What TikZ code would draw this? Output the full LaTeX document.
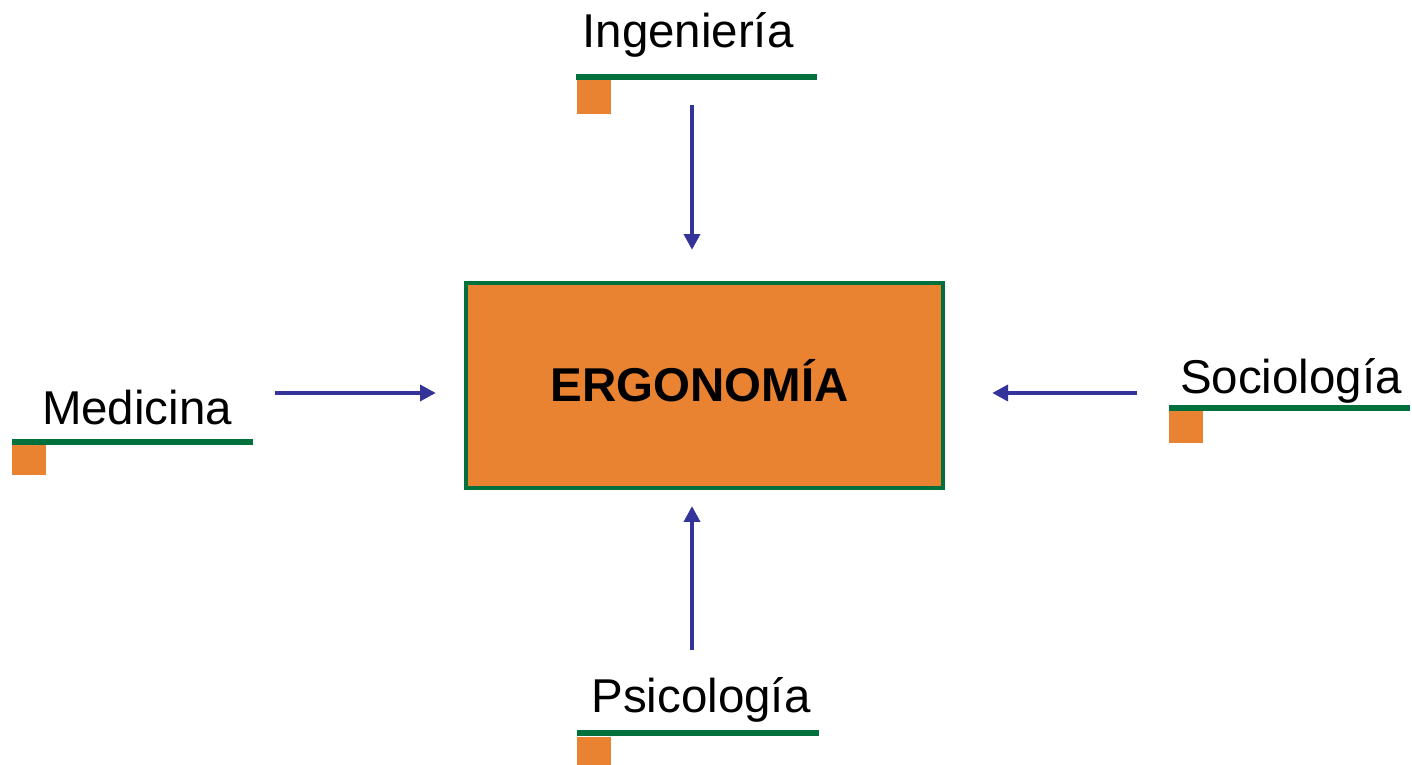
\documentclass[tikz,border=0pt]{standalone}
\usepackage{fontspec}
\setmainfont{Liberation Sans}
\usetikzlibrary{arrows.meta}
\definecolor{ergnaranja}{RGB}{233,131,49}
\definecolor{ergverde}{RGB}{0,112,60}
\definecolor{ergazul}{RGB}{51,51,153}
\tikzset{
  campo/.style={anchor=base,inner sep=0pt,font=\fontsize{13.5}{16}\selectfont},
  raya/.style={ergverde,line width=1.7pt},
  marca/.style={fill=ergnaranja},
  flecha/.style={ergazul,line width=1.1pt,-{Triangle[length=4.5pt,width=4.5pt]}}
}
\begin{document}
\begin{tikzpicture}[x=0.01cm,y=-0.01cm]
        \useasboundingbox (0,0) rectangle (1412,765);

        \node[draw=ergverde,line width=1.15pt,fill=ergnaranja,minimum width=4.77cm,minimum height=2.05cm] (ergo) at (704.5,385.5) {};
        \node[campo,font=\bfseries\fontsize{13.5}{16}\selectfont] (ergotxt) at (699.5,402) {ERGONOM\'IA};

        % Ingenieria
        \node[campo] (ing) at (688,48) {Ingenier\'ia};
        \draw[raya] (576,77) -- (817,77);
        \fill[marca] (577,80) rectangle (611,114);

        % Medicina
        \node[campo] (med) at (137,425) {Medicina};
        \draw[raya] (12,442) -- (253,442);
        \fill[marca] (12,445) rectangle (46,475);

        % Sociologia
        \node[campo] (soc) at (1291,394) {Sociolog\'ia};
        \draw[raya] (1169,408) -- (1410,408);
        \fill[marca] (1169,411) rectangle (1203,443);

        % Psicologia
        \node[campo] (psi) at (701,713) {Psicolog\'ia};
        \draw[raya] (577,733) -- (819,733);
        \fill[marca] (577,737) rectangle (611,765);

        \coordinate (ingA) at (692,105);
        \coordinate (medA) at (275,393);
        \coordinate (socA) at (1137,393);
        \coordinate (psiA) at (692,650);

        \draw[flecha,shorten >=0.31cm] (ingA) -- (ingA |- ergo.north);
        \draw[flecha,shorten >=0.28cm] (medA) -- (medA -| ergo.west);
        \draw[flecha,shorten >=0.47cm] (socA) -- (socA -| ergo.east);
        \draw[flecha,shorten >=0.16cm] (psiA) -- (psiA |- ergo.south);
    \end{tikzpicture}
\end{document}
